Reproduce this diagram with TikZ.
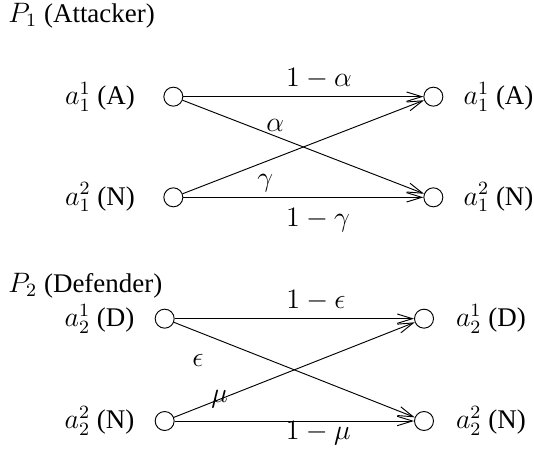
\documentclass[tikz,border=0pt]{standalone}
\usepackage[no-math]{fontspec}
\setmainfont{Liberation Serif}
\usepackage{tikz}
\usetikzlibrary{positioning, arrows.meta}

\tikzset{
    actnode/.style={circle, draw, thin, minimum size=0.285cm, inner sep=0pt},
    actlabel/.style={inner sep=0pt},
    trans/.style={thin, -{Straight Barb[length=6.5pt, width=4pt]}},
}

\begin{document}
\begin{tikzpicture}[font=\fontsize{11.5}{14}\selectfont]
    % Canvas
    \useasboundingbox (0,0) rectangle (8.01,6.78);

    % Attacker
    \node[actlabel, anchor=west] (p1) at (0.12,6.54) {$P_1$ (Attacker)};
    \node[actnode] (a1l) at (2.6,5.33) {};
    \node[actnode] (n1l) at (2.6,3.82) {};
    \node[actnode] (a1r) at (6.5,5.33) {};
    \node[actnode] (n1r) at (6.5,3.82) {};
    \node[actlabel, left=12pt of a1l] (a1ltxt) {$a_1^1$ (A)};
    \node[actlabel, left=12pt of n1l] (n1ltxt) {$a_1^2$ (N)};
    \node[actlabel, right=8.5pt of a1r] (a1rtxt) {$a_1^1$ (A)};
    \node[actlabel, right=8.5pt of n1r] (n1rtxt) {$a_1^2$ (N)};
    % Attacker transitions
    \draw[trans] (a1l) -- node[pos=0.565, above] {$1-\alpha$} (a1r);
    \draw[trans] (a1l) -- node[pos=0.384, above, inner sep=2pt] {$\alpha$} (n1r);
    \draw[trans] (n1l) -- node[pos=0.342, below=2pt] {$\gamma$} (a1r);
    \draw[trans] (n1l) -- node[pos=0.561, below=1pt] {$1-\gamma$} (n1r);

    % Defender
    \node[actlabel, anchor=west] (p2) at (0.12,2.49) {$P_2$ (Defender)};
    \node[actnode] (d2l) at (2.47,2.0) {};
    \node[actnode] (n2l) at (2.47,0.465) {};
    \node[actnode] (d2r) at (6.36,2.0) {};
    \node[actnode] (n2r) at (6.36,0.465) {};
    \node[actlabel, left=8.5pt of d2l] (d2ltxt) {$a_2^1$ (D)};
    \node[actlabel, left=8.5pt of n2l] (n2ltxt) {$a_2^2$ (N)};
    \node[actlabel, right=9.2pt of d2r] (d2rtxt) {$a_2^1$ (D)};
    \node[actlabel, right=9.2pt of n2r] (n2rtxt) {$a_2^2$ (N)};
    % Defender transitions
    \draw[trans] (d2l) -- node[pos=0.59, above] {$1-\epsilon$} (d2r);
    \draw[trans] (d2l) -- node[pos=0.10, below=6pt] {$\epsilon$} (n2r);
    \draw[trans] (n2l) -- node[pos=0.19, inner sep=0pt] {$\mu$} (d2r);
    \draw[trans] (n2l) -- node[pos=0.60, below, inner sep=0pt] {$1-\mu$} (n2r);
\end{tikzpicture}
\end{document}
